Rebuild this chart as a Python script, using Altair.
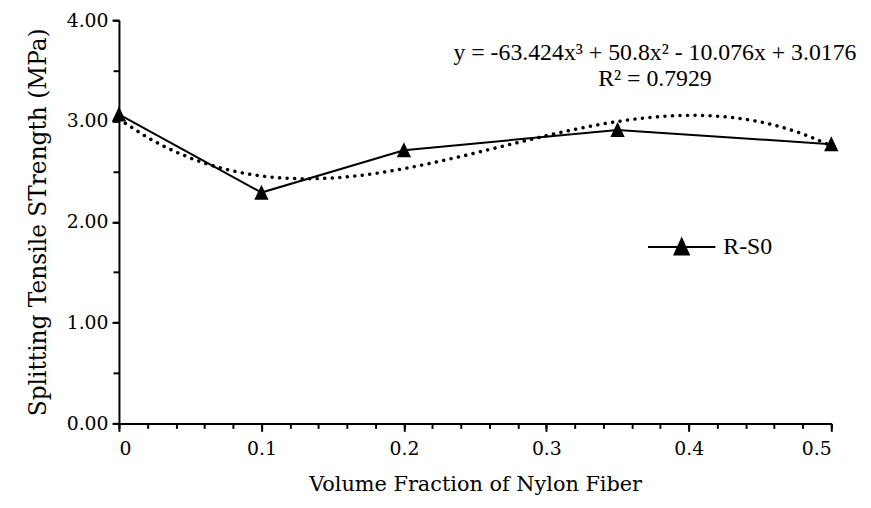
import altair as alt
import pandas as pd

# ---- data ----
fraction = [0, 0.1, 0.2, 0.35, 0.5]
strength = [3.065, 2.290, 2.710, 2.911, 2.770]
series_name = "R-S0"

x_major = [0, 0.1, 0.2, 0.3, 0.4, 0.5]
x_minor = [0, 0.02, 0.04, 0.06, 0.08, 0.1, 0.12, 0.14, 0.16, 0.18, 0.2,
           0.22, 0.24, 0.26, 0.28, 0.3, 0.32, 0.34, 0.36, 0.38, 0.4,
           0.42, 0.44, 0.46, 0.48, 0.5]
y_major = [0, 1, 2, 3, 4]
y_minor = [0, 0.5, 1, 1.5, 2, 2.5, 3, 3.5, 4]

eq_line1 = "y = -63.424x\u00b3 + 50.8x\u00b2 - 10.076x + 3.0176"
eq_line2 = "R\u00b2 = 0.7929"

FONT = "Liberation Serif"
AXFONT = "DejaVu Serif"

df = pd.DataFrame({"x": fraction, "y": strength, "series": [series_name] * len(fraction)})

xscale = alt.Scale(domain=[0, 0.5], nice=False, zero=False)
yscale = alt.Scale(domain=[0, 4], nice=False, zero=False)

x_major_axis = alt.Axis(values=x_major, orient="bottom", format="~g", tickSize=8, tickWidth=2,
                        tickColor="black", domainColor="black", domainWidth=2,
                        labelFont=AXFONT, labelFontSize=19, labelColor="black", labelPadding=8,
                        title="Volume Fraction of Nylon Fiber", titleFont=AXFONT, titleFontSize=21,
                        titleFontWeight="normal", titleColor="black", titlePadding=16, grid=False)
y_major_axis = alt.Axis(values=y_major, orient="left", format=".2f", tickSize=7, tickWidth=2,
                        tickColor="black", domainColor="black", domainWidth=2,
                        labelFont=AXFONT, labelFontSize=19, labelColor="black", labelPadding=4,
                        title="Splitting Tensile STrength (MPa)", titleFont=AXFONT, titleFontSize=23.5,
                        titleFontWeight="normal", titleColor="black", titlePadding=16, grid=False)
x_minor_axis = alt.Axis(values=x_minor, orient="bottom", labels=False, tickSize=5, tickWidth=2,
                        tickColor="black", domain=False, title=None, grid=False)
y_minor_axis = alt.Axis(values=y_minor, orient="left", labels=False, tickSize=6, tickWidth=2,
                        tickColor="black", domain=False, title=None, grid=False)

base = alt.Chart(df)

minor = base.mark_point(opacity=0).encode(
    x=alt.X("x:Q", scale=xscale, axis=x_minor_axis),
    y=alt.Y("y:Q", scale=yscale, axis=y_minor_axis),
)

major = base.mark_point(opacity=0).encode(
    x=alt.X("x:Q", scale=xscale, axis=x_major_axis),
    y=alt.Y("y:Q", scale=yscale, axis=y_major_axis),
)

trend = base.transform_regression(
    "x", "y", method="poly", order=3, extent=[0, 0.5]
).mark_line(color="black", strokeWidth=3.5, strokeDash=[0.1, 7.5], strokeCap="round").encode(
    x=alt.X("x:Q", scale=xscale, axis=None),
    y=alt.Y("y:Q", scale=yscale, axis=None),
)

legend_symbol = "M-1,0H1M-0.21,0.22L0,-0.24L0.21,0.22Z"

line = base.mark_line(strokeWidth=2).encode(
    x=alt.X("x:Q", scale=xscale, axis=None),
    y=alt.Y("y:Q", scale=yscale, axis=None),
    color=alt.Color("series:N", scale=alt.Scale(range=["black"]),
                    legend=alt.Legend(title=None, orient="none", legendX=533, legendY=194,
                                      symbolType=legend_symbol, symbolSize=4624,
                                      symbolStrokeWidth=2, symbolStrokeColor="black",
                                      symbolFillColor="black", labelFont=FONT, labelFontSize=24,
                                      labelColor="black", labelOffset=7, padding=0)),
)

points = base.mark_point(shape="M0,-1L0.9,0.9H-0.9Z", filled=True, size=256,
                         color="black", opacity=1).encode(
    x=alt.X("x:Q", scale=xscale, axis=None),
    y=alt.Y("y:Q", scale=yscale, axis=None),
)

ann1 = alt.Chart(pd.DataFrame({"t": [eq_line1]})).mark_text(
    font=FONT, fontSize=24, color="black", align="center", baseline="alphabetic"
).encode(text="t:N", x=alt.value(541), y=alt.value(40))

ann2 = alt.Chart(pd.DataFrame({"t": [eq_line2]})).mark_text(
    font=FONT, fontSize=24, color="black", align="center", baseline="alphabetic"
).encode(text="t:N", x=alt.value(541), y=alt.value(66))

chart = alt.layer(minor, major, trend, line, points, ann1, ann2).resolve_axis(
    x="independent", y="independent"
).properties(
    width=719, height=407,
    autosize=alt.AutoSizeParams(type="none"),
    padding={"left": 112, "top": 10, "right": 32, "bottom": 75},
).configure_view(stroke=None).configure_axis(grid=False)

chart.save("out.html", embed_options={"renderer": "svg", "actions": False})
